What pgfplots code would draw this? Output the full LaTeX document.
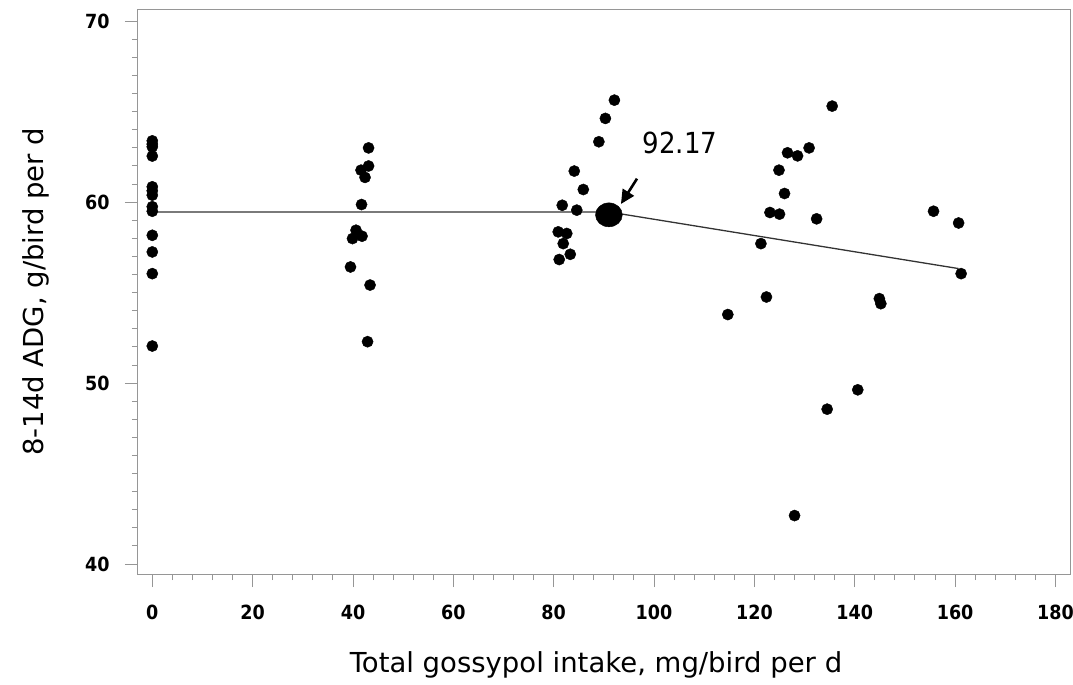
\documentclass[border=0pt]{standalone}
\usepackage{fontspec}
\setmainfont{DejaVu Sans Condensed}
\newfontfamily\labfont{DejaVu Sans}
\usepackage{pgfplots}
\pgfplotsset{compat=1.18}
\usetikzlibrary{arrows.meta}
\definecolor{axgray}{RGB}{150,150,150}
\begin{document}
\begin{tikzpicture}
\useasboundingbox (-138pt,-111pt) rectangle (935pt,574pt);
\begin{axis}[
  at={(0,0)}, anchor=south west,
  scale only axis, width=932pt, height=564.5pt,
  xmin=-2.85, xmax=182.9, ymin=39.45, ymax=70.65,
  xtick={0,20,...,180}, ytick={40,50,60,70},
  minor x tick num=4, minor y tick num=9,
  tick align=outside, major tick length=13pt, minor tick length=6pt,
  axis line style={axgray, line width=1pt},
  every tick/.style={axgray, line width=1pt},
  xtick pos=bottom, ytick pos=left,
  /pgf/number format/assume math mode=true,
  tick label style={font=\fontsize{19.5}{19.5}\selectfont\bfseries},
  yticklabel style={xshift=-12pt},
  xticklabel style={yshift=-14pt},
  xlabel={Total gossypol intake, mg/bird per d},
  ylabel={8-14d ADG, g/bird per d},
  label style={font=\labfont\fontsize{27.5}{27.5}\selectfont},
  xlabel style={anchor=base, at={(axis description cs:0.4914,-0.17485)}},
  ylabel style={anchor=base, at={(axis description cs:-0.1019,0.5)}},
  clip=false,
]
% fitted broken-line
\addplot[black!80, line width=1.3pt, mark=none] coordinates {(0,59.46) (91,59.46) (160.7,56.33)};
% observations
\addplot[only marks, mark=*, mark size=5.6pt, black] coordinates {
(0,63.39) (0,63.21) (0,63.06) (0,62.55) (0,60.85) (0,60.63) (0,60.39) (0,59.75) (0,59.50)
(0,58.17) (0,57.25) (0,56.05) (0,52.05)
(43.1,63.0) (43.1,62.0) (41.6,61.77) (42.4,61.37) (41.7,59.87) (40.6,58.45) (39.9,57.99)
(41.8,58.12) (39.5,56.42) (43.4,55.42) (42.9,52.29)
(92.1,65.64) (90.3,64.63) (89.0,63.34) (84.1,61.72) (85.9,60.70) (81.7,59.83) (84.6,59.56)
(80.9,58.36) (82.6,58.27) (81.9,57.71) (83.3,57.12) (81.1,56.83)
(135.5,65.31) (126.6,62.73) (128.6,62.56) (130.9,63.0) (124.9,61.77) (126.0,60.48)
(123.1,59.43) (125.0,59.34) (132.4,59.08) (121.3,57.71) (122.4,54.76) (114.7,53.79)
(144.9,54.67) (145.2,54.39) (140.6,49.63) (134.5,48.56) (128.0,42.68)
(155.7,59.50) (160.7,58.85) (161.2,56.05)
};
% breakpoint
\addplot[only marks, mark=*, mark size=12pt, mark options={xscale=1.12}, black] coordinates {(91,59.3)};
\draw[-{Triangle[length=14pt,width=13pt]}, line width=2.6pt] (axis cs:96.6,61.3) -- (axis cs:93.4,59.9);
\node[font=\fontsize{29}{29}\selectfont] at (axis cs:105.2,63.27) {92.17};
\end{axis}
\end{tikzpicture}
\end{document}
